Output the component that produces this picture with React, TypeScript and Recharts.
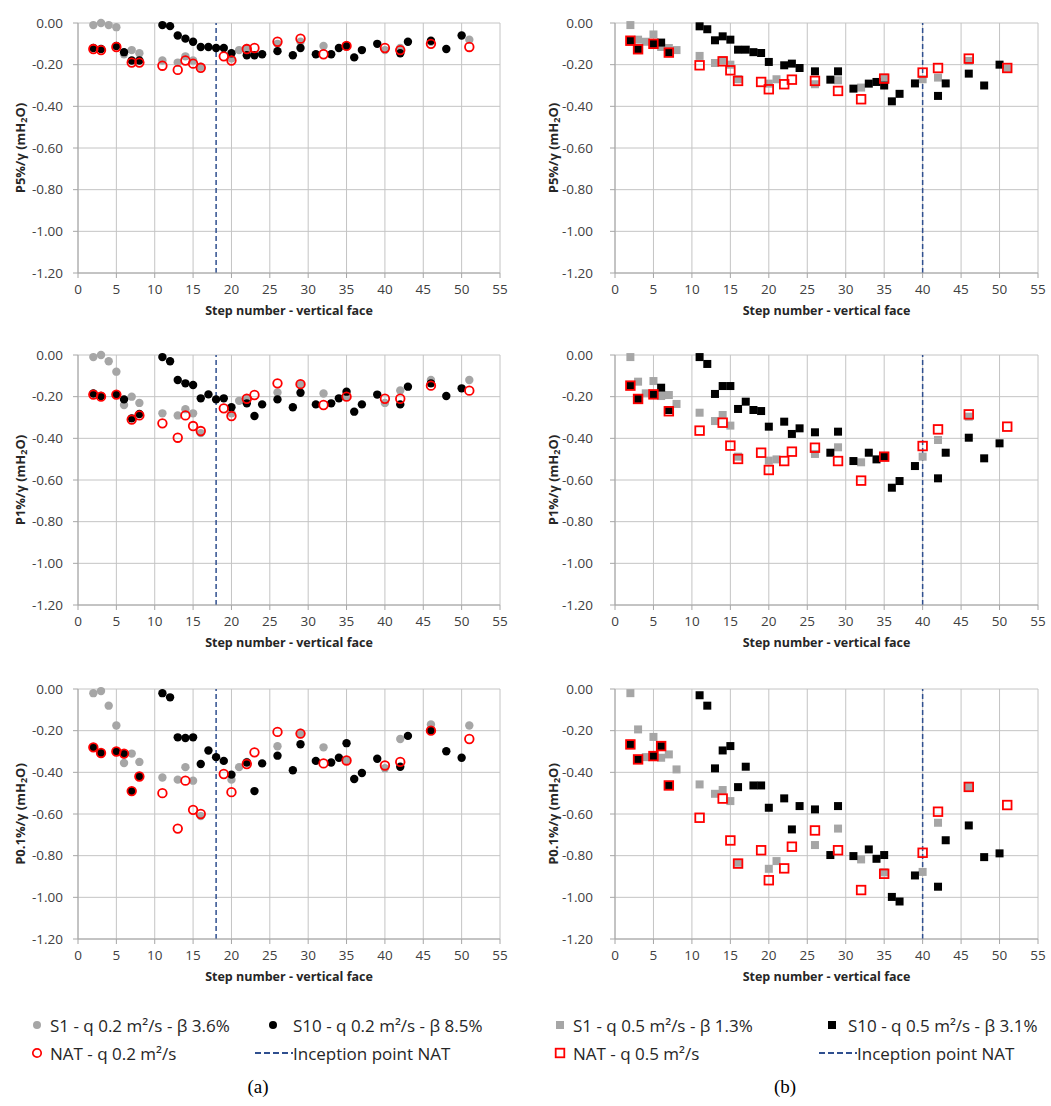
import React from "react";
import { ScatterChart, Scatter, XAxis, YAxis, CartesianGrid, ReferenceLine } from "recharts";

// ---- panel (a): q 0.2 m²/s ----
const STEPS_S1_A = [2, 3, 4, 5, 6, 7, 8, 11, 13, 14, 15, 16, 20, 21, 22, 26, 29, 32, 35, 40, 42, 46, 51];
const P5_S1_A = [-0.01, 0.0, -0.01, -0.02, -0.15, -0.13, -0.145, -0.18, -0.19, -0.16, -0.18, -0.21, -0.17, -0.13, -0.12, -0.1, -0.09, -0.11, -0.11, -0.13, -0.12, -0.09, -0.08];
const P1_S1_A = [-0.01, 0.0, -0.03, -0.08, -0.24, -0.2, -0.23, -0.28, -0.29, -0.26, -0.28, -0.375, -0.28, -0.22, -0.21, -0.18, -0.14, -0.185, -0.2, -0.23, -0.17, -0.12, -0.12];
const P01_S1_A = [-0.02, -0.01, -0.08, -0.175, -0.355, -0.31, -0.35, -0.425, -0.435, -0.375, -0.44, -0.61, -0.435, -0.375, -0.35, -0.275, -0.21, -0.28, -0.34, -0.38, -0.24, -0.17, -0.175];

const STEPS_S10_A = [2, 3, 5, 6, 7, 8, 11, 12, 13, 14, 15, 16, 17, 18, 19, 20, 22, 23, 24, 26, 28, 29, 31, 33, 34, 35, 36, 37, 39, 42, 43, 46, 48, 50];
const P5_S10_A = [-0.12, -0.125, -0.11, -0.14, -0.18, -0.18, -0.01, -0.015, -0.06, -0.075, -0.09, -0.115, -0.115, -0.12, -0.12, -0.145, -0.155, -0.155, -0.15, -0.135, -0.155, -0.12, -0.15, -0.15, -0.12, -0.11, -0.165, -0.13, -0.1, -0.145, -0.09, -0.085, -0.125, -0.06];
const P1_S10_A = [-0.185, -0.197, -0.19, -0.213, -0.304, -0.283, -0.01, -0.03, -0.12, -0.136, -0.144, -0.208, -0.189, -0.213, -0.208, -0.251, -0.232, -0.293, -0.237, -0.213, -0.251, -0.181, -0.237, -0.232, -0.208, -0.176, -0.272, -0.237, -0.19, -0.237, -0.152, -0.136, -0.197, -0.16];
const P01_S10_A = [-0.28, -0.307, -0.3, -0.312, -0.49, -0.42, -0.02, -0.04, -0.232, -0.235, -0.232, -0.36, -0.295, -0.327, -0.345, -0.411, -0.353, -0.49, -0.357, -0.32, -0.39, -0.265, -0.345, -0.353, -0.33, -0.26, -0.432, -0.403, -0.335, -0.373, -0.225, -0.2, -0.299, -0.33];

const STEPS_NAT_A = [2, 3, 5, 6, 7, 8, 11, 13, 14, 15, 16, 19, 20, 22, 23, 26, 29, 32, 35, 40, 42, 46, 51];
const P5_NAT_A = [-0.125, -0.13, -0.115, null, -0.19, -0.19, -0.205, -0.225, -0.18, -0.195, -0.215, -0.16, -0.18, -0.125, -0.12, -0.09, -0.075, -0.15, -0.11, -0.12, -0.13, -0.1, -0.115];
const P1_NAT_A = [-0.19, -0.2, -0.19, null, -0.31, -0.29, -0.328, -0.397, -0.29, -0.341, -0.365, -0.256, -0.293, -0.21, -0.192, -0.136, -0.14, -0.24, -0.2, -0.21, -0.21, -0.147, -0.171];
const P01_NAT_A = [-0.28, -0.307, -0.3, -0.31, -0.49, -0.42, -0.5, -0.67, -0.44, -0.58, -0.6, -0.408, -0.495, -0.36, -0.304, -0.206, -0.214, -0.357, -0.343, -0.367, -0.35, -0.2, -0.24];

// ---- panel (b): q 0.5 m²/s ----
const STEPS_S1_B = [2, 3, 4, 5, 6, 7, 8, 11, 13, 14, 15, 16, 20, 21, 26, 29, 32, 35, 40, 42, 46, 51];
const P5_S1_B = [-0.01, -0.08, -0.09, -0.055, -0.115, -0.12, -0.13, -0.158, -0.192, -0.179, -0.2, -0.27, -0.291, -0.27, -0.294, -0.275, -0.31, -0.262, -0.27, -0.262, -0.182, -0.22];
const P1_S1_B = [-0.01, -0.128, -0.184, -0.125, -0.197, -0.192, -0.235, -0.277, -0.317, -0.288, -0.339, -0.488, -0.507, -0.501, -0.475, -0.443, -0.515, -0.488, -0.488, -0.408, -0.296, null];
const P01_S1_B = [-0.02, -0.194, -0.327, -0.23, -0.33, -0.314, -0.386, -0.458, -0.503, -0.485, -0.538, -0.834, -0.863, -0.826, -0.749, -0.67, -0.818, -0.88, -0.878, -0.642, -0.47, null];

const STEPS_S10_B = [2, 3, 5, 6, 7, 11, 12, 13, 14, 15, 16, 17, 18, 19, 20, 22, 23, 24, 26, 28, 29, 31, 33, 34, 35, 36, 37, 39, 42, 43, 46, 48, 50];
const P5_S10_B = [-0.086, -0.126, -0.1, -0.094, -0.142, -0.016, -0.03, -0.083, -0.064, -0.08, -0.128, -0.128, -0.14, -0.144, -0.187, -0.203, -0.195, -0.216, -0.232, -0.272, -0.232, -0.315, -0.291, -0.283, -0.3, -0.376, -0.34, -0.29, -0.35, -0.29, -0.243, -0.3, -0.2];
const P1_S10_B = [-0.147, -0.211, -0.189, -0.157, -0.264, -0.01, -0.043, -0.187, -0.149, -0.149, -0.259, -0.224, -0.264, -0.269, -0.344, -0.32, -0.379, -0.352, -0.371, -0.469, -0.368, -0.509, -0.469, -0.501, -0.488, -0.637, -0.605, -0.533, -0.592, -0.469, -0.397, -0.496, -0.424];
const P01_S10_B = [-0.266, -0.338, -0.322, -0.274, -0.463, -0.03, -0.08, -0.381, -0.295, -0.274, -0.471, -0.373, -0.463, -0.463, -0.57, -0.525, -0.674, -0.562, -0.578, -0.797, -0.562, -0.802, -0.77, -0.815, -0.797, -0.998, -1.02, -0.895, -0.949, -0.726, -0.655, -0.807, -0.789];

const STEPS_NAT_B = [2, 3, 5, 6, 7, 11, 14, 15, 16, 19, 20, 22, 23, 26, 29, 32, 35, 40, 42, 46, 51];
const P5_NAT_B = [-0.085, -0.126, -0.1, null, -0.142, -0.203, -0.184, -0.227, -0.278, -0.283, -0.318, -0.294, -0.272, -0.278, -0.326, -0.366, -0.267, -0.238, -0.216, -0.171, -0.216];
const P1_NAT_B = [-0.147, -0.211, -0.189, null, -0.27, -0.363, -0.325, -0.435, -0.499, -0.469, -0.552, -0.509, -0.464, -0.445, -0.509, -0.603, -0.488, -0.437, -0.357, -0.285, -0.344];
const P01_NAT_B = [-0.266, -0.338, -0.322, -0.274, -0.463, -0.618, -0.526, -0.727, -0.838, -0.774, -0.918, -0.861, -0.757, -0.679, -0.774, -0.965, -0.887, -0.786, -0.589, -0.47, -0.557];

const X_TICKS = [0, 5, 10, 15, 20, 25, 30, 35, 40, 45, 50, 55];
const Y_TICKS = [-1.2, -1.0, -0.8, -0.6, -0.4, -0.2, 0];
const INCEPTION_A = 18;
const INCEPTION_B = 40;

const GREY = "#a6a6a6";
const RED = "#ff0000";
const BLUE = "#2f4f8f";
const FONT = "'Open Sans', sans-serif";

type Pt = { x: number; y: number };
const zip = (steps: number[], vals: (number | null)[]): Pt[] =>
  steps
    .map((x, i) => ({ x, y: vals[i] as number }))
    .filter((d) => d.y !== null && d.y !== undefined);

// marker shapes
const dot = (fill: string) => (p: any) => <circle cx={p.cx} cy={p.cy} r={4.2} fill={fill} />;
const ring = (p: any) => <circle cx={p.cx} cy={p.cy} r={4.3} fill="none" stroke={RED} strokeWidth={1.8} />;
const sq = (fill: string) => (p: any) => <rect x={p.cx - 4} y={p.cy - 4} width={8} height={8} fill={fill} />;
const openSq = (p: any) => (
  <rect x={p.cx - 4.3} y={p.cy - 4.3} width={8.6} height={8.6} fill="none" stroke={RED} strokeWidth={1.8} />
);

function YTitle(props: any) {
  const { viewBox, prefix, dx } = props;
  const cx = viewBox.x + dx;
  const cy = viewBox.y + viewBox.height / 2;
  return (
    <text
      x={cx}
      y={cy}
      transform={`rotate(-90 ${cx} ${cy})`}
      textAnchor="middle"
      dominantBaseline="central"
      fontFamily={FONT}
      fontSize={13}
      fontWeight={700}
      fill="#262626"
    >
      <tspan>{prefix}/γ (mH</tspan>
      <tspan fontSize={9} dy={3}>2</tspan>
      <tspan dy={-3}>O)</tspan>
    </text>
  );
}

function XTitle(props: any) {
  const { viewBox } = props;
  return (
    <text
      x={viewBox.x + viewBox.width / 2}
      y={viewBox.y + 42}
      textAnchor="middle"
      fontFamily={FONT}
      fontSize={12.5}
      fontWeight={700}
      fill="#262626"
    >
      Step number - vertical face
    </text>
  );
}

interface PanelProps {
  left: number;
  top: number;
  width: number;
  axisWidth: number;
  marginRight: number;
  labelDx: number;
  tickGap: number;
  prefix: string;
  s1: Pt[];
  s10: Pt[];
  nat: Pt[];
  inception: number;
  squares?: boolean;
}

function Panel(p: PanelProps) {
  return (
    <div style={{ position: "absolute", left: p.left, top: p.top }}>
      <ScatterChart
        width={p.width}
        height={330}
        margin={{ top: 23, right: p.marginRight, bottom: 11, left: 0 }}
      >
        <CartesianGrid stroke="#c4c4c4" strokeWidth={1} />
        <XAxis
          type="number"
          dataKey="x"
          domain={[0, 55]}
          ticks={X_TICKS}
          interval={0}
          height={46}
          tickSize={5}
          tickMargin={6}
          stroke="#a6a6a6"
          tick={{ fontSize: 13.5, fill: "#404040", fontFamily: FONT }}
          label={<XTitle />}
        />
        <YAxis
          type="number"
          dataKey="y"
          domain={[-1.2, 0]}
          ticks={Y_TICKS}
          interval={0}
          width={p.axisWidth}
          tickSize={5}
          tickMargin={p.tickGap}
          stroke="#a6a6a6"
          tickFormatter={(v: number) => v.toFixed(2)}
          tick={{ fontSize: 13.5, fill: "#404040", fontFamily: FONT }}
          label={<YTitle prefix={p.prefix} dx={p.labelDx} />}
        />
        <ReferenceLine x={p.inception} stroke={BLUE} strokeWidth={1.5} strokeDasharray="5 3" />
        <Scatter data={p.s1} shape={p.squares ? sq(GREY) : dot(GREY)} isAnimationActive={false} />
        <Scatter data={p.s10} shape={p.squares ? sq("#000") : dot("#000")} isAnimationActive={false} />
        <Scatter data={p.nat} shape={p.squares ? openSq : ring} isAnimationActive={false} />
      </ScatterChart>
    </div>
  );
}

const ROW_TOPS = [0, 332, 666];
const PREFIXES = ["P5%", "P1%", "P0.1%"];

function LegendItem({ x, y, marker, text }: { x: number; y: number; marker: React.ReactNode; text: React.ReactNode }) {
  return (
    <div style={{ position: "absolute", left: x, top: y - 12, height: 24, display: "flex", alignItems: "center", whiteSpace: "nowrap" }}>
      {marker}
      <span style={{ fontFamily: FONT, fontSize: 17, color: "#262626" }}>{text}</span>
    </div>
  );
}

const mk = (w: number, child: React.ReactNode, gap: number) => (
  <svg width={w} height={14} style={{ marginRight: gap, overflow: "visible" }}>
    {child}
  </svg>
);

export default function App() {
  const rowsA = [
    [P5_S1_A, P5_S10_A, P5_NAT_A],
    [P1_S1_A, P1_S10_A, P1_NAT_A],
    [P01_S1_A, P01_S10_A, P01_NAT_A],
  ];
  const rowsB = [
    [P5_S1_B, P5_S10_B, P5_NAT_B],
    [P1_S1_B, P1_S10_B, P1_NAT_B],
    [P01_S1_B, P01_S10_B, P01_NAT_B],
  ];
  const dash = (
    <svg width={38} height={14}>
      <line x1={0} y1={7} x2={38} y2={7} stroke={BLUE} strokeWidth={2} strokeDasharray="6 3" />
    </svg>
  );
  return (
    <div style={{ position: "absolute", left: 0, top: 0, width: 1051, height: 1106, background: "#fff" }}>
      {ROW_TOPS.map((top, i) => (
        <React.Fragment key={i}>
          <Panel
            left={0}
            top={top}
            width={530}
            axisWidth={78}
            marginRight={30}
            labelDx={20}
            tickGap={10}
            prefix={PREFIXES[i]}
            s1={zip(STEPS_S1_A, rowsA[i][0])}
            s10={zip(STEPS_S10_A, rowsA[i][1])}
            nat={zip(STEPS_NAT_A, rowsA[i][2])}
            inception={INCEPTION_A}
          />
          <Panel
            left={535}
            top={top}
            width={516}
            axisWidth={80}
            marginRight={13}
            labelDx={18}
            tickGap={17}
            prefix={PREFIXES[i]}
            s1={zip(STEPS_S1_B, rowsB[i][0])}
            s10={zip(STEPS_S10_B, rowsB[i][1])}
            nat={zip(STEPS_NAT_B, rowsB[i][2])}
            inception={INCEPTION_B}
            squares
          />
        </React.Fragment>
      ))}

      {/* legend (a) */}
      <LegendItem x={31} y={1025} marker={mk(12, <circle cx={6} cy={7} r={4} fill={GREY} />, 7)} text="S1 - q 0.2 m²/s - β 3.6%" />
      <LegendItem x={267} y={1025} marker={mk(12, <circle cx={6} cy={7} r={4} fill="#000" />, 14)} text="S10 - q 0.2 m²/s - β 8.5%" />
      <LegendItem x={31} y={1053} marker={mk(12, <circle cx={6} cy={7} r={4.2} fill="none" stroke={RED} strokeWidth={1.7} />, 7)} text="NAT - q 0.2 m²/s" />
      <LegendItem x={255} y={1053} marker={dash} text="Inception point NAT" />

      {/* legend (b) */}
      <LegendItem x={554} y={1025} marker={mk(12, <rect x={2} y={3} width={8} height={8} fill={GREY} />, 7)} text="S1 - q 0.5 m²/s - β 1.3%" />
      <LegendItem x={826} y={1025} marker={mk(12, <rect x={2} y={3} width={8} height={8} fill="#000" />, 10)} text="S10 - q 0.5 m²/s - β 3.1%" />
      <LegendItem x={554} y={1053} marker={mk(12, <rect x={1.7} y={2.7} width={8.6} height={8.6} fill="none" stroke={RED} strokeWidth={1.8} />, 7)} text="NAT - q 0.5 m²/s" />
      <LegendItem x={819} y={1053} marker={dash} text="Inception point NAT" />

      <div style={{ position: "absolute", left: 238, top: 1076, width: 40, textAlign: "center", fontFamily: "'Liberation Serif', serif", fontSize: 19, color: "#000" }}>(a)</div>
      <div style={{ position: "absolute", left: 765, top: 1076, width: 40, textAlign: "center", fontFamily: "'Liberation Serif', serif", fontSize: 19, color: "#000" }}>(b)</div>
    </div>
  );
}
